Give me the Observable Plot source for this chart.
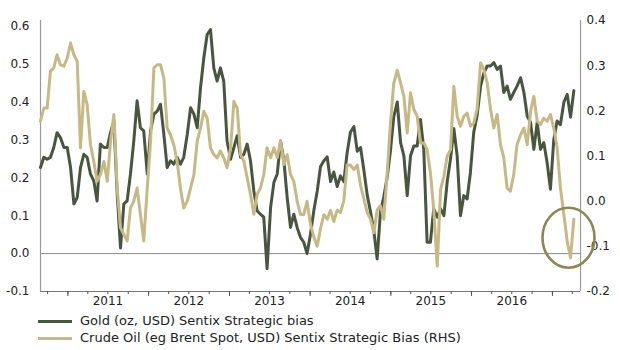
<!DOCTYPE html>
<html>
<head>
<meta charset="utf-8">
<script src="https://cdn.jsdelivr.net/npm/d3@7"></script>
<script src="https://cdn.jsdelivr.net/npm/@observablehq/plot@0.6"></script>
<style>
  body { margin: 0; background: #fff; font-family: "DejaVu Sans", sans-serif; }
  #legend { font-size: 13px; color: #222; }
  .row { height: 17px; line-height: 17px; white-space: nowrap; }
  .sw { display: inline-block; width: 34px; height: 3px; margin-left: 38px; margin-right: 8px; vertical-align: middle; }
</style>
</head>
<body>
<div id="chart"></div>
<div id="legend"></div>
<script>
// Series names
const seriesNames = ["Gold (oz, USD) Sentix Strategic bias", "Crude Oil (eg Brent Spot, USD) Sentix Strategic Bias (RHS)"];
const seriesColors = ["#48553f", "#c7b985"];

// Observation dates: roughly every 15 days from the start date
const startDate = "2010-08-30";
const stepDays = 15.08;

// Gold strategic bias (left axis)
const gold = [
0.227,0.254,0.249,0.254,0.280,0.319,0.306,0.280,0.280,0.227,
0.131,0.148,0.227,0.262,0.254,0.210,0.192,0.139,0.289,0.280,
0.280,0.320,0.350,0.157,0.015,0.131,0.139,0.210,0.297,0.403,
0.332,0.324,0.210,0.324,0.368,0.376,0.394,0.315,0.227,0.245,
0.236,0.254,0.236,0.254,0.315,0.385,0.368,0.332,0.438,0.517,
0.578,0.591,0.490,0.455,0.490,0.455,0.297,0.249,0.280,0.311,
0.254,0.262,0.289,0.245,0.166,0.113,0.104,0.096,-0.040,0.122,
0.188,0.210,0.297,0.245,0.148,0.069,0.104,0.069,0.043,0.030,
0.000,0.050,0.115,0.165,0.230,0.245,0.255,0.190,0.215,0.177,
0.205,0.190,0.265,0.320,0.335,0.270,0.280,0.220,0.155,0.110,
0.060,-0.014,0.110,0.150,0.200,0.270,0.360,0.400,0.293,0.258,
0.153,0.258,0.284,0.284,0.354,0.275,0.030,0.030,0.118,0.096,
0.118,0.100,0.190,0.250,0.330,0.258,0.100,0.153,0.144,0.214,
0.320,0.363,0.442,0.477,0.495,0.495,0.504,0.486,0.495,0.425,
0.442,0.407,0.425,0.442,0.464,0.425,0.363,0.346,0.275,0.346,
0.275,0.293,0.240,0.170,0.300,0.350,0.340,0.400,0.420,0.360,
0.430
];

// Crude oil strategic bias (right axis)
const oil = [
0.177,0.206,0.206,0.288,0.295,0.324,0.302,0.299,0.317,0.350,
0.324,0.310,0.118,0.243,0.214,0.125,0.088,0.044,0.059,0.088,
0.044,0.133,0.192,0.029,-0.059,-0.074,-0.088,-0.015,0.000,0.029,
-0.029,-0.088,0.029,0.133,0.295,0.302,0.302,0.273,0.162,0.147,
0.125,0.088,0.029,-0.015,0.000,0.029,0.059,0.133,0.162,0.199,
0.184,0.118,0.103,0.096,0.111,0.096,0.074,0.118,0.221,0.206,
0.103,0.088,0.052,0.015,-0.029,0.015,0.029,0.059,0.118,0.096,
0.118,0.096,0.133,0.081,0.103,0.059,0.044,0.000,-0.029,-0.030,
0.000,-0.050,-0.080,-0.100,-0.060,-0.030,-0.040,-0.020,-0.045,-0.020,
-0.025,0.000,0.080,0.080,0.070,0.080,0.035,0.005,-0.025,-0.040,
-0.070,-0.020,-0.010,-0.040,0.060,0.170,0.260,0.290,0.262,0.232,
0.151,0.240,0.203,0.188,0.129,0.129,0.114,0.063,-0.018,-0.144,
0.026,0.055,0.100,0.114,0.254,0.188,0.166,0.188,0.195,0.166,
0.173,0.203,0.306,0.291,0.262,0.203,0.162,0.192,0.125,0.096,
0.029,0.022,0.059,0.125,0.147,0.162,0.125,0.199,0.232,0.177,
0.170,0.184,0.177,0.192,0.162,0.120,0.030,-0.030,-0.090,-0.125,
-0.040
];

// Axes
const leftTicks = [-0.1, 0.0, 0.1, 0.2, 0.3, 0.4, 0.5, 0.6];
const rightTicks = [-0.2, -0.1, 0.0, 0.1, 0.2, 0.3, 0.4];
const leftDomain = [-0.1, 0.615];
const rightDomain = [-0.2, 0.4];
const xDomain = ["2010-08-30", "2017-05-08"];
const yearLabels = [2011, 2012, 2013, 2014, 2015, 2016];

// Annotation circle (marks the latest oil reading)
const circleDate = "2017-03-17";
const circleValue = -0.082; // RHS units

// map right-axis values into left-axis space
const k = (leftDomain[1] - leftDomain[0]) / (rightDomain[1] - rightDomain[0]);
const toLeft = v => leftDomain[0] + (v - rightDomain[0]) * k;
const fromLeft = L => rightDomain[0] + (L - leftDomain[0]) / k;

const start = new Date(startDate);
const dates = gold.map((_, i) => d3.utcDay.offset(start, Math.round(i * stepDays)));
const goldData = gold.map((v, i) => ({date: dates[i], value: v}));
const oilData = oil.map((v, i) => ({date: dates[i], value: toLeft(v)}));

const x0 = new Date(xDomain[0]), x1 = new Date(xDomain[1]);
const quarters = d3.utcMonth.every(3).range(x0, x1);
const years = d3.utcYear.range(x0, x1);
const julys = yearLabels.map(y => new Date(Date.UTC(y, 6, 1)));
const fmt1 = v => (Math.round(v * 10) / 10).toFixed(1);

const plot = Plot.plot({
  width: 620,
  height: 312,
  marginLeft: 40,
  marginRight: 40,
  marginTop: 20,
  marginBottom: 21,
  x: {type: "utc", domain: [x0, x1]},
  y: {domain: leftDomain},
  style: {fontFamily: "DejaVu Sans", fontSize: "12px", color: "#222", background: "white", overflow: "visible"},
  marks: [
    Plot.ruleY([0], {stroke: "#8a8a8a", strokeWidth: 1}),
    Plot.ruleX([x0, x1], {stroke: "#9a9a9a", strokeWidth: 1.2}),
    Plot.ruleY([leftDomain[0]], {stroke: "#777", strokeWidth: 1.2}),
    Plot.line(goldData, {x: "date", y: "value", stroke: seriesColors[0], strokeWidth: 3, strokeLinejoin: "round"}),
    Plot.line(oilData, {x: "date", y: "value", stroke: seriesColors[1], strokeWidth: 3, strokeLinejoin: "round"}),
    Plot.axisY({ticks: leftTicks, tickSize: 0, tickPadding: 11, tickFormat: fmt1, label: null, fill: "#222"}),
    Plot.axisY({anchor: "right", ticks: rightTicks.map(toLeft), tickSize: 0, tickPadding: 6, tickFormat: d => fmt1(fromLeft(d)), label: null, fill: "#222"}),
    Plot.axisX({ticks: quarters, tickSize: 3, tickFormat: () => "", label: null, stroke: "#555"}),
    Plot.axisX({ticks: years, tickSize: 5, tickFormat: () => "", label: null, stroke: "#555"}),
    Plot.axisX({ticks: julys, tickSize: 0, tickPadding: 5, tickFormat: d3.utcFormat("%Y"), label: null, fill: "#222"})
  ]
});

// annotation ellipse placed with the plot's own scales
const cx = plot.scale("x").apply(new Date(circleDate));
const cy = plot.scale("y").apply(toLeft(circleValue));
d3.select(plot).append("ellipse")
  .attr("cx", cx).attr("cy", cy).attr("rx", 26).attr("ry", 30)
  .attr("fill", "none").attr("stroke", "#8d8755").attr("stroke-width", 2.6);

document.getElementById("chart").appendChild(plot);

const legend = document.getElementById("legend");
seriesNames.forEach((name, i) => {
  const row = document.createElement("div");
  row.className = "row";
  const sw = document.createElement("span");
  sw.className = "sw";
  sw.style.background = seriesColors[i];
  row.appendChild(sw);
  row.appendChild(document.createTextNode(name));
  legend.appendChild(row);
});
</script>
</body>
</html>
